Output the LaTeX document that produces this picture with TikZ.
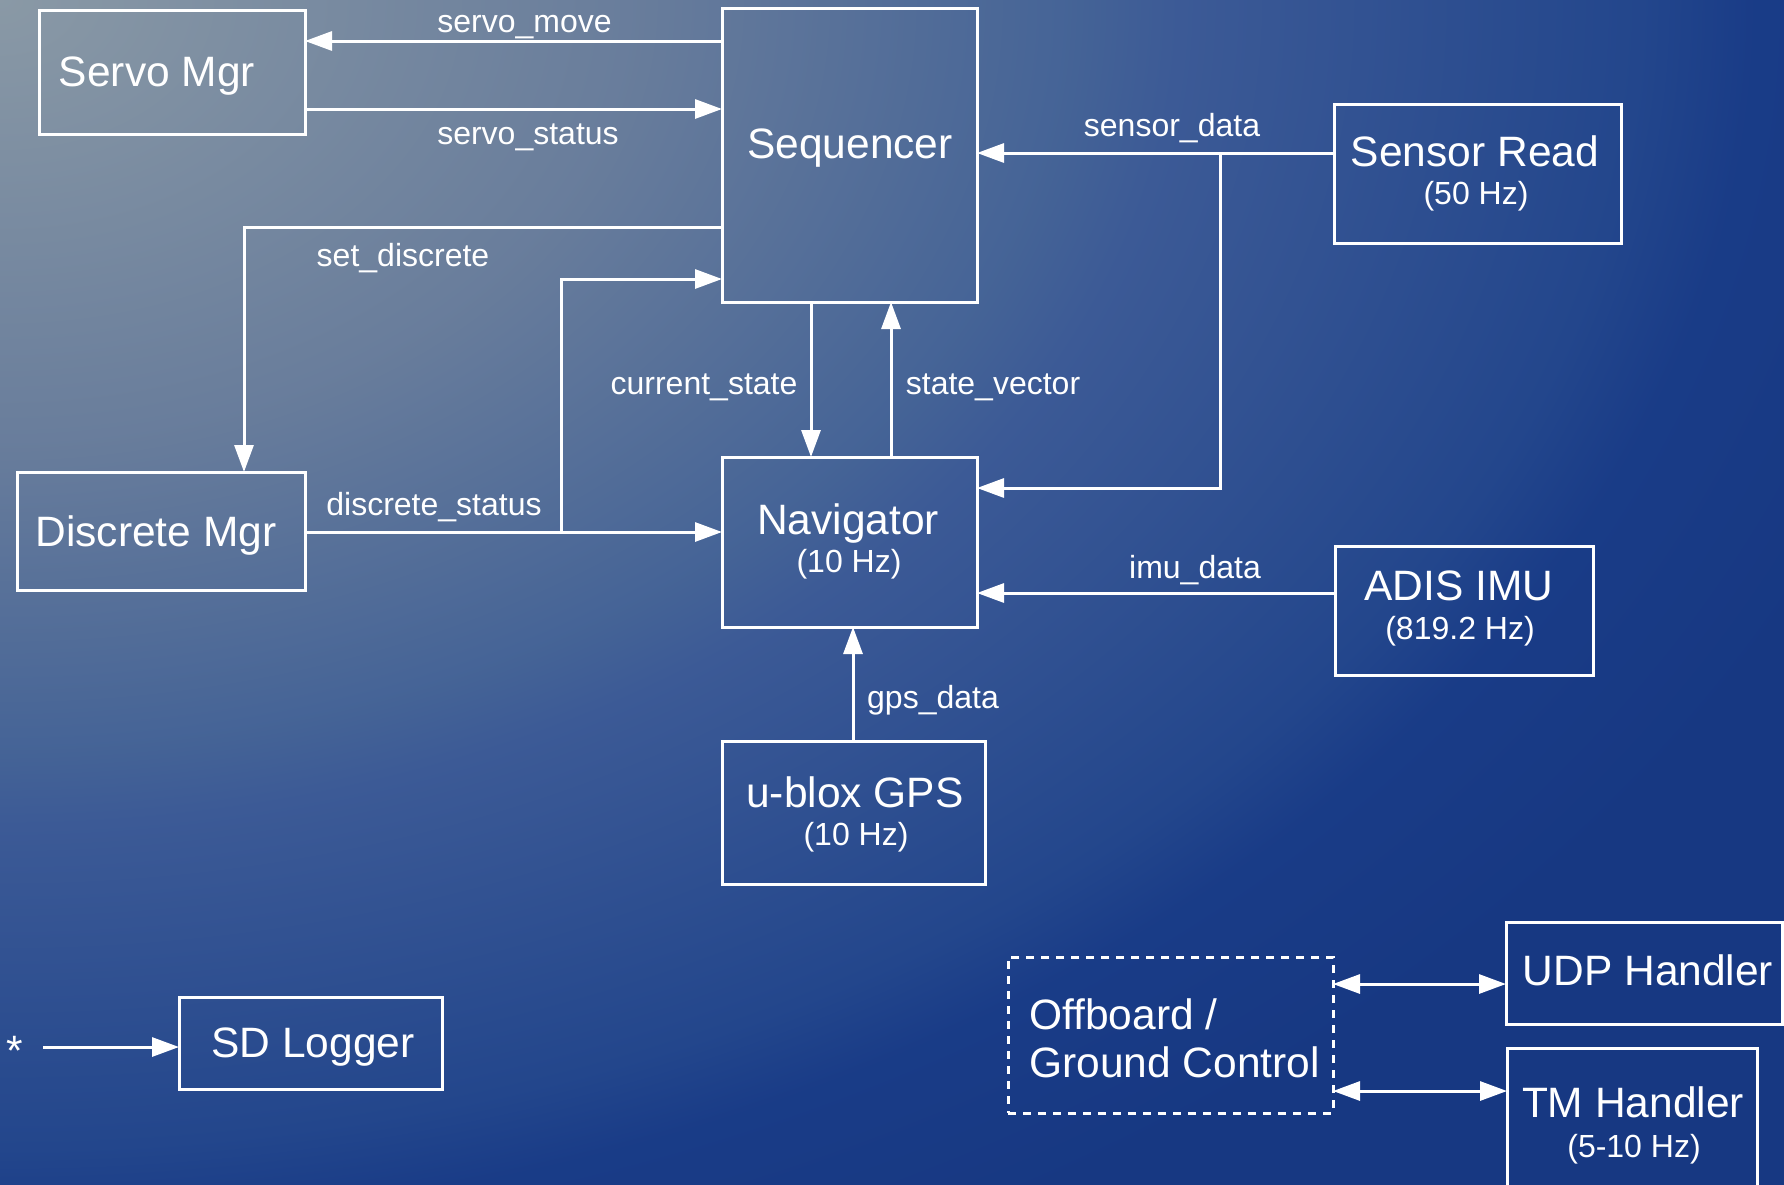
\documentclass[tikz,border=0pt]{standalone}
\usepackage{fontspec}
\setmainfont{Liberation Sans}
\usetikzlibrary{arrows.meta}
\pgfdeclareradialshading{bgshade}{\pgfpoint{0bp}{0bp}}{rgb(0bp)=(0.54,0.60,0.65); rgb(7.9bp)=(0.41,0.49,0.61); rgb(13.4bp)=(0.27,0.39,0.59); rgb(14.75bp)=(0.235,0.353,0.588); rgb(20.5bp)=(0.137,0.275,0.549); rgb(21.9bp)=(0.10,0.235,0.53); rgb(25bp)=(0.09,0.22,0.51); rgb(50bp)=(0.09,0.22,0.51)}
\begin{document}
\begin{tikzpicture}[x=1pt,y=-1pt,
  box/.style={draw=white, line width=3pt, inner sep=0pt, outer sep=0pt},
  dbox/.style={box, dash pattern=on 8pt off 7pt},
  ttl/.style={text=white, inner sep=0pt, anchor=base, font=\fontsize{42.5pt}{51pt}\selectfont},
  subt/.style={text=white, inner sep=0pt, anchor=base, font=\fontsize{32pt}{38pt}\selectfont},
  lbl/.style={text=white, inner sep=0pt, anchor=base, font=\fontsize{32pt}{38pt}\selectfont},
  arr/.style={draw=white, line width=3pt, line join=miter, -{Triangle[length=27pt,width=19pt]}},
  darr/.style={draw=white, line width=3pt, {Triangle[length=27pt,width=19pt]}-{Triangle[length=27pt,width=19pt]}}
]
\useasboundingbox (0,0) rectangle (1784,1184);
\begin{scope}
\clip (0,0) rectangle (1784,1184);
\shade[shading=bgshade] (-2000,-1400) rectangle (2000,1400);

% boxes
\node[box, minimum width=266pt, minimum height=124pt] (servo) at (172,72) {};
\node[box, minimum width=255pt, minimum height=294pt] (seq) at (849.5,155) {};
\node[box, minimum width=287pt, minimum height=139pt] (sensor) at (1477.5,173.5) {};
\node[box, minimum width=288pt, minimum height=118pt] (discrete) at (161,531) {};
\node[box, minimum width=255pt, minimum height=170pt] (nav) at (849.5,542) {};
\node[box, minimum width=258pt, minimum height=129pt] (imu) at (1464,610.5) {};
\node[box, minimum width=263pt, minimum height=143pt] (gps) at (853.5,812.5) {};
\node[box, minimum width=263pt, minimum height=92pt] (sd) at (310.5,1043) {};
\node[dbox, minimum width=325pt, minimum height=156pt] (off) at (1170.5,1035) {};
\node[box, minimum width=276pt, minimum height=102pt] (udp) at (1644,973) {};
\node[box, minimum width=250pt, minimum height=152pt] (tm) at (1632,1124) {};

% titles
\node[ttl] (tservo) at (157,86) {Servo Mgr};
\node[ttl] (tseq) at (850,158) {Sequencer};
\node[ttl] (tsensor) at (1475,166) {Sensor Read};
\node[subt] (ssensor) at (1476,204.5) {(50 Hz)};
\node[ttl] (tdiscrete) at (156,546) {Discrete Mgr};
\node[ttl] (tnav) at (848,534) {Navigator};
\node[subt] (snav) at (849,572.5) {(10 Hz)};
\node[ttl] (timu) at (1459,600) {ADIS IMU};
\node[subt] (simu) at (1460,639.5) {(819.2 Hz)};
\node[ttl] (tgps) at (855,807) {u-blox GPS};
\node[subt] (sgps) at (856,845.5) {(10 Hz)};
\node[ttl] (tsd) at (313,1057) {SD Logger};
\node[ttl, anchor=base west] (toff1) at (1029,1029) {Offboard /};
\node[ttl, anchor=base west] (toff2) at (1029,1077) {Ground Control};
\node[ttl] (tudp) at (1648,985.5) {UDP Handler};
\node[ttl] (ttm) at (1633,1117.5) {TM Handler};
\node[subt] (stm) at (1634,1157) {(5-10 Hz)};
\node[ttl] (star) at (15,1065) {*};

% connector labels
\node[lbl] (lsm) at (524.5,32) {servo\_move};
\node[lbl] (lss) at (528,144) {servo\_status};
\node[lbl] (lsd) at (403,266) {set\_discrete};
\node[lbl] (lds) at (434,515) {discrete\_status};
\node[lbl] (lcs) at (704,394) {current\_state};
\node[lbl] (lsv) at (993,394) {state\_vector};
\node[lbl] (lsen) at (1172,136) {sensor\_data};
\node[lbl] (limu) at (1195,578) {imu\_data};
\node[lbl] (lgps) at (933,708) {gps\_data};

% junctions
\coordinate (jd) at (561,532);
\coordinate (js) at (1220,153);
\coordinate (sdstart) at (43,1047);

% connectors
\draw[arr] (seq.west |- 0,41) -- (servo.east |- 0,41);
\draw[arr] (servo.east |- 0,109) -- (seq.west |- 0,109);
\draw[arr] (seq.west |- 0,227) -| (244,0 |- discrete.north);
\draw[arr] (discrete.east |- jd) -- (nav.west |- jd);
\draw[arr] (jd) |- (seq.west |- 0,279);
\draw[arr] (seq.south -| 811,0) -- (nav.north -| 811,0);
\draw[arr] (nav.north -| 891,0) -- (seq.south -| 891,0);
\draw[arr] (sensor.west |- js) -- (seq.east |- js);
\draw[arr] (js) |- (nav.east |- 0,488);
\draw[arr] (imu.west |- 0,593) -- (nav.east |- 0,593);
\draw[arr] (gps.north -| 853,0) -- (nav.south -| 853,0);
\draw[arr] (sdstart) -- (sd.west |- sdstart);
\draw[darr] (off.east |- 0,984) -- (udp.west |- 0,984);
\draw[darr] (off.east |- 0,1091) -- (tm.west |- 0,1091);
\end{scope}
\end{tikzpicture}
\end{document}
